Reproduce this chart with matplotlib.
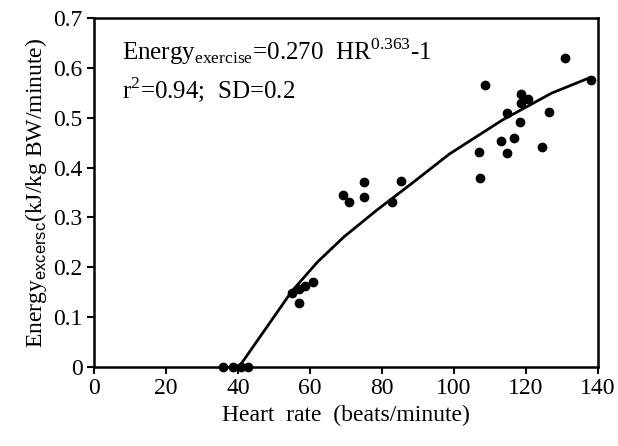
import matplotlib
matplotlib.use('Agg')
import matplotlib.pyplot as plt

plt.rcParams['font.family'] = ['Liberation Serif', 'DejaVu Serif']
plt.rcParams['mathtext.fontset'] = 'custom'
plt.rcParams['mathtext.rm'] = 'Liberation Serif'
plt.rcParams['mathtext.sf'] = 'Liberation Sans'

# measured points (heart rate, energy)
hr = [35.8, 38.6, 40.9, 42.9,
      55.1, 56.9, 58.7, 60.9, 57.0,
      69.2, 70.8, 75.1, 75.1, 82.9, 85.3,
      107.4, 107.1, 108.7, 113.1, 114.7, 114.9, 116.7, 118.3,
      118.6, 118.7, 120.6, 124.5, 126.6, 130.9, 138.2]
energy = [0.0, 0.0, 0.0, 0.0,
          0.149, 0.156, 0.163, 0.170, 0.128,
          0.345, 0.330, 0.370, 0.341, 0.330, 0.372,
          0.378, 0.432, 0.566, 0.453, 0.509, 0.429, 0.459, 0.492,
          0.530, 0.548, 0.537, 0.442, 0.512, 0.619, 0.576]

# fitted curve
fit_hr = [40.3, 55, 62.2, 69.5, 78.7, 87.8, 98.8, 113.5, 127.2, 137.8]
fit_energy = [0.0, 0.152, 0.211, 0.261, 0.315, 0.365, 0.427, 0.495, 0.549, 0.580]

fig = plt.figure(figsize=(6.18, 4.46), dpi=100)
ax = fig.add_axes([0.152, 0.177, 0.815, 0.783])

ax.plot(fit_hr, fit_energy, color='black', lw=2.0, zorder=2)
ax.scatter(hr, energy, s=36, color='black', zorder=3, clip_on=False)

ax.set_xlim(0, 140)
ax.set_ylim(0, 0.7)
ax.set_xticks(range(0, 141, 20))
ax.set_yticks([0, 0.1, 0.2, 0.3, 0.4, 0.5, 0.6, 0.7])
ax.set_yticklabels(['0', '0.1', '0.2', '0.3', '0.4', '0.5', '0.6', '0.7'])
ax.tick_params(direction='out', length=5, width=1.5, labelsize=17, pad=3)
for s in ax.spines.values():
    s.set_linewidth(1.8)

ax.set_xlabel('Heart  rate  (beats/minute)', fontsize=17, labelpad=4)
ax.set_ylabel(r'Energy$_{\mathsf{excersc}}$(kJ/kg BW/minute)', fontsize=17, labelpad=3)

ax.text(7.7, 0.632, r'Energy$_{\mathregular{exercise}}$=0.270  HR$^{\mathregular{0.363}}$-1',
        fontsize=18, va='center')
ax.text(7.7, 0.556, r'r$^{\mathregular{2}}$=0.94;  SD=0.2', fontsize=18, va='center')

fig.savefig('out.png', dpi=100)
